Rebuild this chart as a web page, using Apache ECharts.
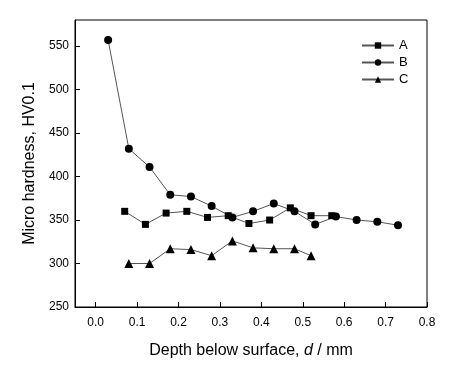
<!DOCTYPE html>
<html>
<head>
<meta charset="utf-8">
<script src="https://cdn.jsdelivr.net/npm/echarts@6/dist/echarts.min.js"></script>
<style>html,body{margin:0;padding:0;background:#fff;}#c{width:455px;height:365px;}</style>
</head>
<body>
<div id="c"></div>
<script>
var depthA = [0.07, 0.12, 0.17, 0.22, 0.27, 0.32, 0.37, 0.42, 0.47, 0.52, 0.57];
var hardA  = [360, 345, 358, 360, 353, 355, 346, 350, 364, 355, 355];
var depthB = [0.03, 0.08, 0.13, 0.18, 0.23, 0.28, 0.33, 0.38, 0.43, 0.48, 0.53, 0.58, 0.63, 0.68, 0.73];
var hardB  = [557, 432, 411, 379, 377, 366, 353, 360, 369, 360, 345, 354, 350, 348, 344];
var depthC = [0.08, 0.13, 0.18, 0.23, 0.28, 0.33, 0.38, 0.43, 0.48, 0.52];
var hardC  = [300, 300, 317, 316, 309, 326, 318, 317, 317, 309];
var xTicks = [0.0, 0.1, 0.2, 0.3, 0.4, 0.5, 0.6, 0.7, 0.8];
var yTicks = [250, 300, 350, 400, 450, 500, 550];
var seriesNames = ['A', 'B', 'C'];

function pairs(xs, ys) { return xs.map(function (x, i) { return [x, ys[i]]; }); }

var font = 'Liberation Sans, Arial, sans-serif';
var chart = echarts.init(document.getElementById('c'), null, {renderer: 'canvas'});
var lineStyle = {color: '#555', width: 1};
var mk = function (name, symbol, size, xs, ys) {
  return {
    name: name, type: 'line', data: pairs(xs, ys), symbol: symbol, symbolSize: size,
    showAllSymbol: true, lineStyle: lineStyle,
    itemStyle: {color: '#000', borderWidth: 0}, animation: false
  };
};
chart.setOption({
  animation: false,
  grid: {left: 75, right: 28, top: 20, bottom: 58, show: true, borderColor: '#000', borderWidth: 1, backgroundColor: 'transparent'},
  legend: {
    orient: 'vertical', left: 361, top: 39, padding: 0, itemWidth: 32, itemHeight: 8, itemGap: 4,
    data: seriesNames,
    textStyle: {fontFamily: font, fontSize: 13, color: '#000'}
  },
  xAxis: {
    type: 'value', min: -0.05, max: 0.8,
    name: 'Depth below surface, {i|d} / mm', nameLocation: 'middle', nameGap: 36,
    nameTextStyle: {fontFamily: font, fontSize: 16, color: '#000', rich: {i: {fontFamily: font, fontSize: 16, fontStyle: 'italic', color: '#000'}}},
    axisLine: {onZero: false, lineStyle: {color: '#000', width: 1}},
    axisTick: {inside: true, length: 5, lineStyle: {color: '#000'}, customValues: xTicks},
    axisLabel: {fontFamily: font, fontSize: 12, color: '#000', margin: 10, customValues: xTicks,
      formatter: function (v) { return v.toFixed(1); }},
    splitLine: {show: false}
  },
  yAxis: {
    type: 'value', min: 250, max: 580,
    name: 'Micro hardness, HV0.1', nameLocation: 'middle', nameGap: 37,
    nameTextStyle: {fontFamily: font, fontSize: 16, color: '#000'},
    axisLine: {onZero: false, lineStyle: {color: '#000', width: 1}},
    axisTick: {inside: true, length: 5, lineStyle: {color: '#000'}, customValues: yTicks},
    axisLabel: {fontFamily: font, fontSize: 12, color: '#000', margin: 6, customValues: yTicks},
    splitLine: {show: false}
  },
  series: [
    mk('A', 'rect', 7, depthA, hardA),
    mk('B', 'circle', 8, depthB, hardB),
    mk('C', 'triangle', 9, depthC, hardC)
  ]
});
</script>
</body>
</html>
